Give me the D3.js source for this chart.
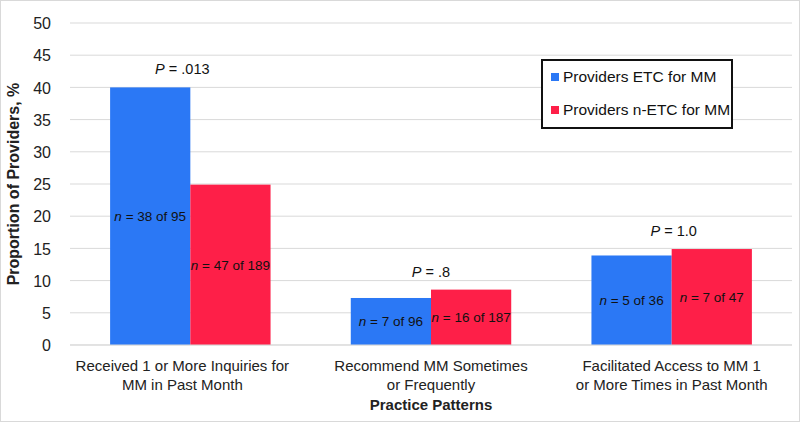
<!DOCTYPE html>
<html><head><meta charset="utf-8">
<script src="https://cdn.jsdelivr.net/npm/d3@7"></script>
<style>body{margin:0;background:#fff}text{font-family:"Liberation Sans",Arial,sans-serif}</style>
</head><body><svg id="c" width="800" height="422"></svg>
<script>
const categories = [["Received 1 or More Inquiries for","MM in Past Month"],["Recommend MM Sometimes","or Frequently"],["Facilitated Access to MM 1","or More Times in Past Month"]];
const seriesNames = ["Providers ETC for MM","Providers n-ETC for MM"];
const etcValues = [40.0, 7.3, 13.9];
const netcValues = [24.9, 8.6, 14.9];
const etcLabels = ["38 of 95","7 of 96","5 of 36"];
const netcLabels = ["47 of 189","16 of 187","7 of 47"];
const pValues = [".013",".8","1.0"];
const yTicks = [0,5,10,15,20,25,30,35,40,45,50];
const colors = ["#2b78f5","#fe1f48"];

const svg = d3.select("#c");
const W=800,H=422;
const m={l:70,r:8,t:23,b:77};
svg.append("rect").attr("x",0.5).attr("y",0.5).attr("width",W-1).attr("height",H-1).attr("fill","#fff").attr("stroke","#d9d9d9");

const x0 = d3.scaleBand().domain(d3.range(categories.length)).range([m.l,W-m.r]);
const x1 = d3.scaleBand().domain([0,1]).range([0,x0.bandwidth()]).paddingOuter(0.5).paddingInner(0);
const y = d3.scaleLinear().domain([0,50]).range([H-m.b,m.t]);

// grid
svg.append("g").selectAll("line").data(yTicks).join("line")
 .attr("x1",m.l).attr("x2",W-m.r).attr("y1",d=>y(d)).attr("y2",d=>y(d))
 .attr("stroke","#d9d9d9").attr("stroke-width",1);

// y axis labels
const ya = svg.append("g").attr("transform",`translate(${m.l-19},0)`)
 .call(d3.axisLeft(y).tickValues(yTicks).tickSize(0).tickPadding(0));
ya.select(".domain").remove();
ya.selectAll("text").attr("font-size",16).attr("fill","#222").attr("font-family","Liberation Sans, Arial, sans-serif").attr("dy","0.35em");

const series = [etcValues, netcValues];
const labels = [etcLabels, netcLabels];
series.forEach((vals,s)=>{
  svg.append("g").selectAll("rect").data(vals).join("rect")
   .attr("x",(d,i)=>x0(i)+x1(s)).attr("width",x1.bandwidth())
   .attr("y",d=>y(d)).attr("height",d=>y(0)-y(d)).attr("fill",colors[s]);
});
series.forEach((vals,s)=>{
  const t = svg.append("g").selectAll("text").data(vals).join("text")
   .attr("x",(d,i)=>x0(i)+x1(s)+x1.bandwidth()/2).attr("y",d=>y(d/2))
   .attr("dy","0.35em").attr("text-anchor","middle").attr("font-size",13.5).attr("fill","#111");
  t.append("tspan").attr("font-style","italic").text("n");
  t.append("tspan").text((d,i)=>" = "+labels[s][i]);
});

// P values
const pt = svg.append("g").selectAll("text").data(pValues).join("text")
 .attr("x",(d,i)=>x0(i)+x0.bandwidth()/2 - (i===0?8:0) + (i===2?2:0)).attr("y",(d,i)=>y(Math.max(etcValues[i],netcValues[i]))-13)
 .attr("text-anchor","middle").attr("font-size",14.5).attr("fill","#111");
pt.append("tspan").attr("font-style","italic").text("P");
pt.append("tspan").text(d=>" = "+d);

// x axis line
svg.append("line").attr("x1",m.l).attr("x2",W-m.r).attr("y1",y(0)).attr("y2",y(0)).attr("stroke","#d9d9d9");

// category labels
const ct = svg.append("g").selectAll("text").data(categories).join("text")
 .attr("x",(d,i)=>x0(i)+x0.bandwidth()/2 - (i===0?8:0)).attr("y",371)
 .attr("text-anchor","middle").attr("font-size",15).attr("fill","#222");
ct.selectAll("tspan").data(d=>d).join("tspan")
 .attr("x",function(){return this.parentNode.getAttribute("x");})
 .attr("dy",(d,i)=>i===0?0:19).text(d=>d);

// axis titles
svg.append("text").attr("x",(m.l+W-m.r)/2).attr("y",410).attr("text-anchor","middle")
 .attr("font-size",15).attr("font-weight","bold").attr("fill","#222").text("Practice Patterns");
svg.append("text").attr("transform",`translate(19,${(y(0)+y(50))/2}) rotate(-90)`).attr("text-anchor","middle")
 .attr("font-size",16).attr("font-weight","bold").attr("fill","#222").text("Proportion of Providers, %");

// legend
const lg = svg.append("g");
lg.append("rect").attr("x",542).attr("y",60).attr("width",190).attr("height",68).attr("fill","#fff").attr("stroke","#111").attr("stroke-width",2);
seriesNames.forEach((n,i)=>{
  const yy = 77 + i*33;
  lg.append("rect").attr("x",551).attr("y",yy-4).attr("width",8).attr("height",8).attr("fill",colors[i]);
  lg.append("text").attr("x",563).attr("y",yy).attr("dy","0.35em").attr("font-size",15.5).attr("fill","#111").text(n);
});
</script></body></html>
